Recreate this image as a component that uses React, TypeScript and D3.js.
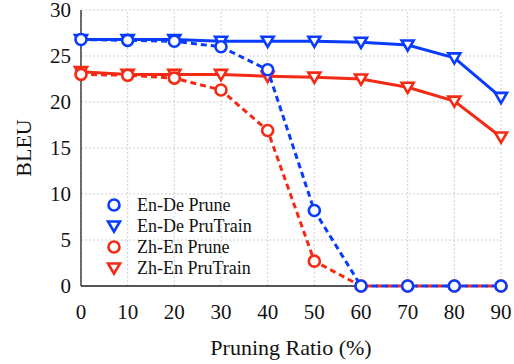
import React from 'react';
import * as d3 from 'd3';

const ratios = [0, 10, 20, 30, 40, 50, 60, 70, 80, 90];
const enDePrune = [26.8, 26.7, 26.6, 26.0, 23.5, 8.2, 0, 0, 0, 0];
const enDePruTrain = [26.8, 26.8, 26.8, 26.6, 26.6, 26.6, 26.5, 26.2, 24.8, 20.5];
const zhEnPrune = [23.0, 22.9, 22.6, 21.3, 16.9, 2.7, 0, 0, 0, 0];
const zhEnPruTrain = [23.3, 23.0, 23.0, 23.0, 22.8, 22.7, 22.5, 21.6, 20.1, 16.2];
const yTicks = [0, 5, 10, 15, 20, 25, 30];
const xTicks = [0, 10, 20, 30, 40, 50, 60, 70, 80, 90];

const BLUE = '#0a3cff';
const RED = '#f52a14';

const series = [
  { name: 'En-De Prune', values: enDePrune, color: BLUE, marker: 'circle', dashed: true },
  { name: 'En-De PruTrain', values: enDePruTrain, color: BLUE, marker: 'tri', dashed: false },
  { name: 'Zh-En Prune', values: zhEnPrune, color: RED, marker: 'circle', dashed: true },
  { name: 'Zh-En PruTrain', values: zhEnPruTrain, color: RED, marker: 'tri', dashed: false },
];
// red first, blue on top
const drawOrder = [3, 2, 1, 0];

const W = 514;
const H = 364;
const margin = { top: 10, right: 13, bottom: 78, left: 81 };
const SERIF = "'Liberation Serif'";

const triPath = (r: number) => `M${-r},${-r * 0.75}L${r},${-r * 0.75}L0,${r * 0.95}Z`;

function Marker({ type, x, y, color }: { type: string; x: number; y: number; color: string }) {
  if (type === 'circle') {
    return <circle cx={x} cy={y} r={5.5} fill="white" stroke={color} strokeWidth={2.6} />;
  }
  return <path d={triPath(6)} transform={`translate(${x},${y})`} fill="white" stroke={color} strokeWidth={2.6} />;
}

export default function App() {
  const x = d3.scaleLinear().domain([0, 90]).range([margin.left, W - margin.right]);
  const y = d3.scaleLinear().domain([0, 30]).range([H - margin.bottom, margin.top]);

  const line = d3
    .line<number>()
    .x((_, i) => x(ratios[i]))
    .y(d => y(d));

  const legendX = 114;
  const legendY = [205, 226, 247, 268];

  return (
    <svg width={W} height={H} style={{ position: 'absolute', left: 0, top: 0, background: 'white' }}>
      {/* grid */}
      <g stroke="#cfcfcf" strokeWidth={1} strokeDasharray="2,2">
        {xTicks.map(t => (
          <line key={'gx' + t} x1={x(t)} x2={x(t)} y1={y(0)} y2={y(30)} />
        ))}
        {yTicks.map(t => (
          <line key={'gy' + t} x1={x(0)} x2={x(90)} y1={y(t)} y2={y(t)} />
        ))}
      </g>
      {/* axes */}
      <line x1={x(0)} x2={x(0)} y1={y(0)} y2={y(30)} stroke="#222" strokeWidth={1.3} />
      <line x1={x(0)} x2={x(90)} y1={y(0)} y2={y(0)} stroke="#222" strokeWidth={1.3} />

      <g fill="#111" style={{ fontFamily: SERIF }}>
        {yTicks.map(t => (
          <text key={'ty' + t} x={x(0) - 10} y={y(t)} dy="0.35em" textAnchor="end" fontSize={21}>
            {t}
          </text>
        ))}
        {xTicks.map(t => (
          <text key={'tx' + t} x={x(t)} y={y(0) + 33} textAnchor="middle" fontSize={21}>
            {t}
          </text>
        ))}
        <text x={(x(0) + x(90)) / 2} y={H - 9} textAnchor="middle" fontSize={22}>
          Pruning Ratio (%)
        </text>
        <text transform={`translate(31,${(y(0) + y(30)) / 2}) rotate(-90)`} textAnchor="middle" fontSize={22}>
          BLEU
        </text>
      </g>

      {/* series */}
      {drawOrder.map(i => {
        const s = series[i];
        return (
          <g key={s.name}>
            <path
              d={line(s.values) || ''}
              fill="none"
              stroke={s.color}
              strokeWidth={3}
              strokeDasharray={s.dashed ? '6,4' : undefined}
            />
            {s.values.map((v, j) => (
              <Marker key={j} type={s.marker} x={x(ratios[j])} y={y(v)} color={s.color} />
            ))}
          </g>
        );
      })}

      {/* legend */}
      <g fill="#111" style={{ fontFamily: SERIF }}>
        {series.map((s, i) => (
          <g key={'lg' + s.name}>
            <Marker type={s.marker} x={legendX} y={legendY[i]} color={s.color} />
            <text x={legendX + 23} y={legendY[i]} dy="0.35em" fontSize={18}>
              {s.name}
            </text>
          </g>
        ))}
      </g>
    </svg>
  );
}
